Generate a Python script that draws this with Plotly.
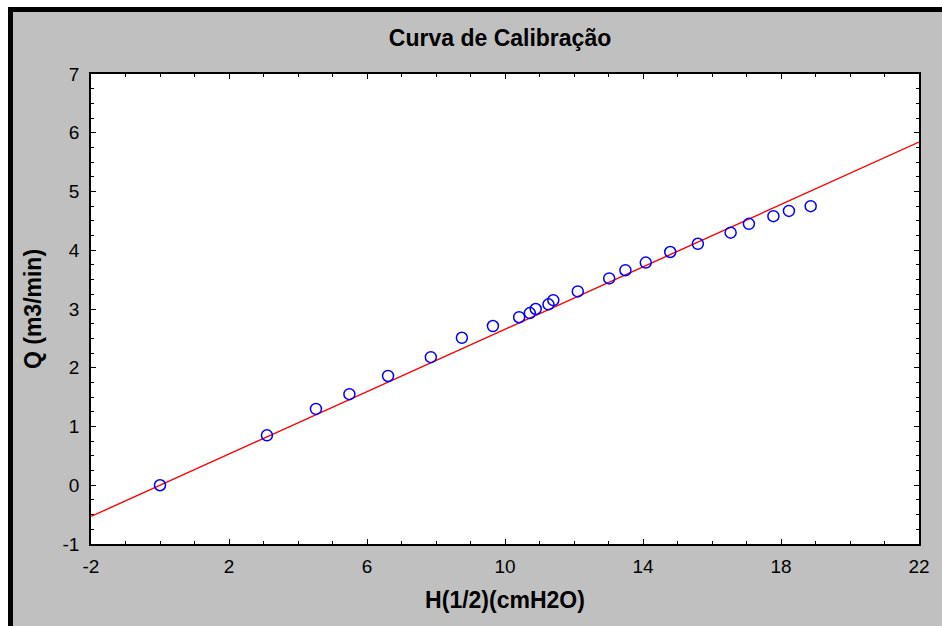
import numpy as np
import plotly.graph_objects as go

# Calibration measurements: square root of head (cmH2O) vs flow (m3/min)
h_sqrt = [0.0, 3.10, 4.52, 5.49, 6.61, 7.85, 8.75, 9.65, 10.41, 10.72, 10.89,
          11.26, 11.40, 12.11, 13.02, 13.49, 14.08, 14.79, 15.59, 16.54,
          17.07, 17.78, 18.23, 18.86]
flow = [0.0, 0.85, 1.30, 1.55, 1.86, 2.18, 2.51, 2.71, 2.86, 2.93, 3.00,
        3.08, 3.15, 3.30, 3.52, 3.66, 3.79, 3.97, 4.11, 4.30,
        4.45, 4.58, 4.67, 4.75]

# Calibration line Q = a + b * H^(1/2)
fit_intercept = 0.0
fit_slope = 0.2655
line_x = [-2, 22]
line_y = [fit_intercept + fit_slope * v for v in line_x]

x_ticks = [-2, 2, 6, 10, 14, 18, 22]
y_ticks = [-1, 0, 1, 2, 3, 4, 5, 6, 7]

FONT = "Liberation Sans, Arial, sans-serif"

fig = go.Figure()
fig.add_trace(go.Scatter(
    x=line_x, y=line_y, mode="lines",
    line=dict(color="#ff0000", width=1.4), hoverinfo="skip",
))
fig.add_trace(go.Scatter(
    x=h_sqrt, y=flow, mode="markers",
    marker=dict(symbol="circle-open", size=11, color="#0000ff",
                line=dict(width=1.5, color="#0000ff")),
))

L, R, T, B = 91, 23, 74, 82
W, H = 942, 626
pw, ph = W - L - R, H - T - B


def px(xp):
    return (xp - L) / pw


def py(yp):
    return (H - B - yp) / ph


# White strips and black frame along the top and left edges
shapes = [
    dict(type="rect", xref="paper", yref="paper", x0=px(0), x1=px(W), y0=py(0), y1=py(7),
         fillcolor="white", line=dict(width=0), layer="above"),
    dict(type="rect", xref="paper", yref="paper", x0=px(0), x1=px(8), y0=py(0), y1=py(H),
         fillcolor="white", line=dict(width=0), layer="above"),
    dict(type="rect", xref="paper", yref="paper", x0=px(8), x1=px(W), y0=py(7), y1=py(12),
         fillcolor="black", line=dict(width=0), layer="above"),
    dict(type="rect", xref="paper", yref="paper", x0=px(8), x1=px(13), y0=py(7), y1=py(H),
         fillcolor="black", line=dict(width=0), layer="above"),
]

axis_common = dict(
    showgrid=False, zeroline=False, showline=True, linecolor="black", linewidth=1.5,
    mirror="ticks", ticks="inside", ticklen=5, tickwidth=1, tickcolor="black",
    tickfont=dict(family=FONT, size=19, color="black"),
)

fig.update_layout(
    width=W, height=H,
    margin=dict(l=L, r=R, t=T, b=B),
    paper_bgcolor="#c0c0c0", plot_bgcolor="white",
    showlegend=False,
    title=dict(text="<b>Curva de Calibração</b>", x=0.494, xref="paper",
               y=1 - 38 / H, yanchor="middle",
               font=dict(family=FONT, size=23, color="black")),
    shapes=shapes,
)
fig.update_xaxes(
    range=[-2, 22], tickvals=x_ticks, ticktext=[str(v) for v in x_ticks],
    minor=dict(dtick=1, tick0=-2, ticks="inside", ticklen=3, tickcolor="black"),
    title=dict(text="<b>H(1/2)(cmH2O)</b>", standoff=16,
               font=dict(family=FONT, size=23, color="black")),
    ticklabelstandoff=4,
    **axis_common,
)
fig.update_yaxes(
    range=[-1, 7], tickvals=y_ticks, ticktext=[str(v) for v in y_ticks],
    minor=dict(dtick=0.25, tick0=-1, ticks="inside", ticklen=3, tickcolor="black"),
    title=dict(text="<b>Q (m3/min)</b>", standoff=14,
               font=dict(family=FONT, size=23, color="black")),
    ticklabelstandoff=6,
    **axis_common,
)

fig.write_html("out.html")
